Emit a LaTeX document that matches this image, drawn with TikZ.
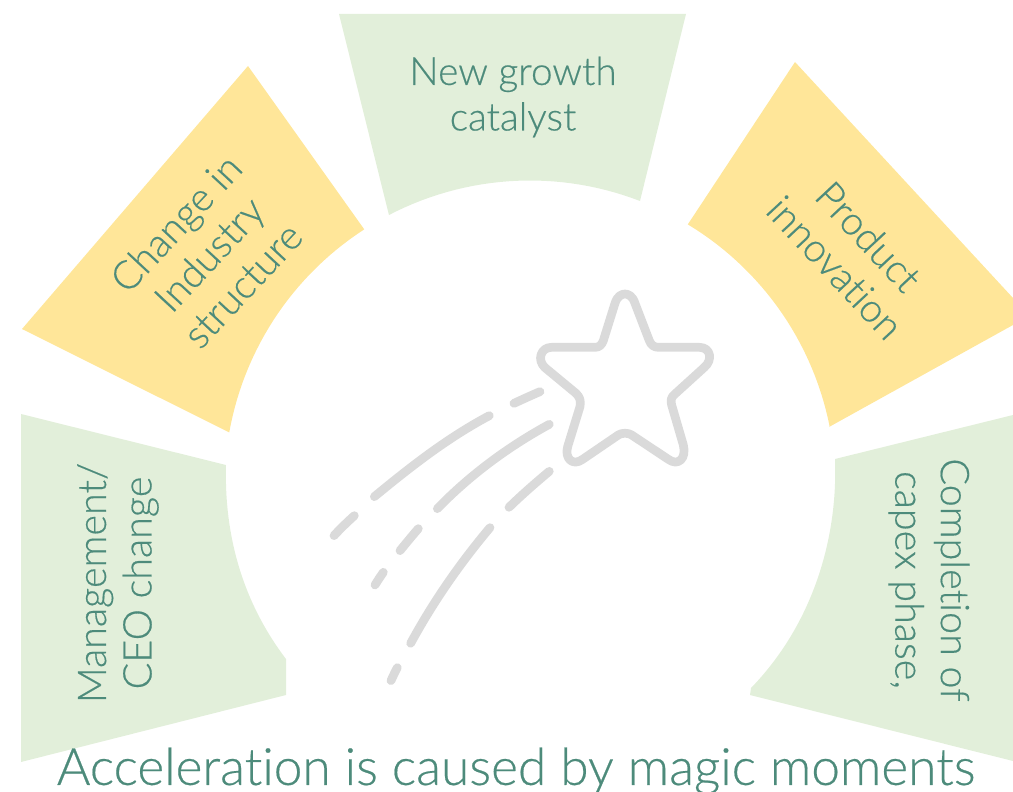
\documentclass[tikz,border=0pt]{standalone}
\usepackage{fontspec}
\setmainfont{Lato}[UprightFont=* Light,Ligatures=NoCommon,UprightFeatures={FakeBold=0.4}]
\definecolor{pgreen}{HTML}{E2EFDA}
\definecolor{pyellow}{HTML}{FFE699}
\definecolor{teal1}{HTML}{4D8B7B}
\definecolor{icon}{HTML}{DADADA}
\tikzset{
  lab/.style={text=teal1,font=\fontsize{39.5}{45.5}\selectfont,align=center,inner sep=0pt},
  toplab/.style={text=teal1,font=\fontsize{38.8}{45.5}\selectfont,align=center,inner sep=0pt},
  captionlab/.style={text=teal1,font=\fontsize{51.4}{55}\selectfont,inner sep=0pt},
  iconline/.style={draw=icon,line width=8.7pt,line cap=round,line join=round}
}
\begin{document}
\begin{tikzpicture}[x=1pt,y=-1pt]
\useasboundingbox (0,0) rectangle (1013,792);
\def\cx{530}\def\cy{486}\def\rr{305.5}
% top
\fill[pgreen] (339,14) -- (686,14) -- (640,201) -- plot[domain=-68.9:-117.5,samples=30] ({\cx+\rr*cos(\x)},{\cy+\rr*sin(\x)}) -- cycle;
% yellow left
\fill[pyellow] (248,66) -- (364,229) -- plot[domain=-122.9:-169.9,samples=30] ({\cx+\rr*cos(\x)},{\cy+\rr*sin(\x)}) -- (22,329) -- cycle;
% yellow right
\fill[pyellow] (795,62) -- (1013,298) -- (1013,325) -- (829,427) -- plot[domain=-11.2:-58.9,samples=30] ({\cx+\rr*cos(\x)},{\cy+\rr*sin(\x)}) -- cycle;
% green left
\fill[pgreen] (21,414) -- (226,465) .. controls (224,540) and (245,605) .. (286,659) -- (286,695) -- (21,762) -- cycle;
% green right
\fill[pgreen] (1013,415) -- (835,459) .. controls (838,540) and (812,625) .. (751,688) -- (750,695) -- (1013,761) -- cycle;
% star
\begin{scope}[shift={(500,270)},x=0.3333pt,y=-0.3333pt]
\draw[iconline] (345,100) .. controls (352,78) and (365,72) .. (375,72)
 .. controls (385,72) and (398,78) .. (405,100)
 -- (448,212) .. controls (453,225) and (462,232) .. (475,232)
 -- (598,232) .. controls (632,232) and (640,270) .. (612,293)
 -- (525,372) .. controls (512,382) and (512,392) .. (515,405)
 -- (550,525) .. controls (560,565) and (535,590) .. (505,568)
 -- (395,495) .. controls (385,488) and (365,488) .. (355,495)
 -- (248,568) .. controls (218,590) and (193,565) .. (203,530)
 -- (240,410) .. controls (243,392) and (240,382) .. (228,370)
 -- (135,293) .. controls (110,270) and (122,232) .. (155,232)
 -- (285,232) .. controls (298,232) and (305,225) .. (310,212)
 -- cycle;
\end{scope}
\begin{scope}[shift={(320,380)},x=0.3333pt,y=-0.3333pt]
\draw[iconline] (42,467) .. controls (60,447) and (80,428) .. (103,407);
\draw[iconline] (163,350) .. controls (270,262) and (380,175) .. (508,107);
\draw[iconline] (582,70) .. controls (608,58) and (634,46) .. (660,35);
\draw[iconline] (165,615) .. controls (173,602) and (181,590) .. (190,577);
\draw[iconline] (240,512) .. controls (258,490) and (276,468) .. (295,446);
\draw[iconline] (352,386) .. controls (450,285) and (565,200) .. (688,133);
\draw[iconline] (213,902) .. controls (219,889) and (225,876) .. (232,863);
\draw[iconline] (272,790) .. controls (340,665) and (420,550) .. (510,443);
\draw[iconline] (567,382) .. controls (605,345) and (645,310) .. (688,274);
\end{scope}
% labels
\node[toplab] (top) at (513,97) {New growth\\catalyst};
\node[lab,rotate=47] (yl) at (209,254) {Change in\\Industry\\structure};
\node[lab,rotate=-47] (yr) at (852,252) {Product\\innovation};
\node[lab,rotate=90] (gl) at (118,583) {Management/\\CEO change};
\node[lab,rotate=-90] (gr) at (929,580) {Completion of\\capex phase,};
\node[captionlab] (title) at (516,771) {Acceleration is caused by magic moments};
\end{tikzpicture}
\end{document}
